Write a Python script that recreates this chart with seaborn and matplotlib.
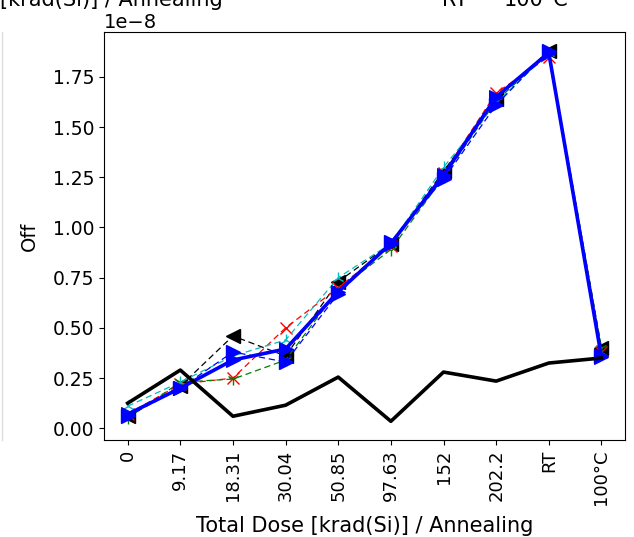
import matplotlib
matplotlib.use("Agg")
import matplotlib.pyplot as plt
from matplotlib.lines import Line2D
import seaborn as sns
import pandas as pd
import numpy as np

categories = ["0", "9.17", "18.31", "30.04", "50.85", "97.63", "152", "202.2", "RT", "100°C"]

s_black = [0.06, 0.21, 0.46, 0.36, 0.73, 0.92, 1.28, 1.64, 1.88, 0.40]
s_red = [0.07, 0.22, 0.25, 0.50, 0.70, 0.91, 1.27, 1.67, 1.85, 0.38]
s_green = [0.05, 0.23, 0.245, 0.34, 0.69, 0.89, 1.25, 1.63, 1.87, 0.40]
s_cyan = [0.11, 0.23, 0.36, 0.44, 0.75, 0.92, 1.30, 1.62, 1.87, 0.38]
s_blue = [0.06, 0.20, 0.38, 0.33, 0.67, 0.93, 1.24, 1.61, 1.88, 0.36]
mean_vals = [0.07, 0.20, 0.34, 0.395, 0.68, 0.92, 1.26, 1.65, 1.87, 0.355]
std_vals = [0.125, 0.29, 0.06, 0.115, 0.255, 0.035, 0.28, 0.235, 0.325, 0.35]

scale = 1e-8
series = [
    ("k", "<", s_black),
    ("r", "x", s_red),
    ("g", "1", s_green),
    ("c", "2", s_cyan),
    ("b", ">", s_blue),
]

fig = plt.figure(figsize=(6.34, 5.37), dpi=100)
ax = fig.add_axes([0.164, 0.181, 0.822, 0.759])
x = np.arange(len(categories))

for color, marker, vals in series:
    df = pd.DataFrame({"x": x, "y": np.array(vals) * scale})
    ms = 10 if marker in "<>" else 9
    sns.lineplot(data=df, x="x", y="y", ax=ax, color=color, marker=marker,
                 markersize=ms, linestyle=(0, (5, 3)), linewidth=0.9,
                 markeredgecolor=color, markeredgewidth=1.0, legend=False)

df_m = pd.DataFrame({"x": x, "y": np.array(mean_vals) * scale})
sns.lineplot(data=df_m, x="x", y="y", ax=ax, color="b", marker=">",
             markersize=10, linewidth=2.6, markeredgecolor="b", legend=False)
df_s = pd.DataFrame({"x": x, "y": np.array(std_vals) * scale})
sns.lineplot(data=df_s, x="x", y="y", ax=ax, color="k", linewidth=2.6, legend=False)

ax.set_xticks(x)
ax.set_xticklabels(categories, rotation=90)
ax.tick_params(axis="y", labelsize=13.5)
ax.tick_params(axis="x", labelsize=13)
ax.yaxis.get_offset_text().set_fontsize(14)
ax.set_xlabel("Total Dose [krad(Si)] / Annealing", fontsize=15, labelpad=8)
ax.set_ylabel("Off", fontsize=14, labelpad=10)

# partial texts of the figure part above (cropped in the reference too)
fig.text(0.0, 1.0, "[krad(Si)] / Annealing", fontsize=15, ha="left", va="center")
fig.text(0.718, 1.0, "RT", fontsize=15, ha="center", va="center")
fig.text(0.845, 1.0, "100°C", fontsize=15, ha="center", va="center")
fig.add_artist(Line2D([0.003, 0.003], [0.18, 0.94], color="#dddddd", linewidth=1))

fig.savefig("out.png", dpi=100)
